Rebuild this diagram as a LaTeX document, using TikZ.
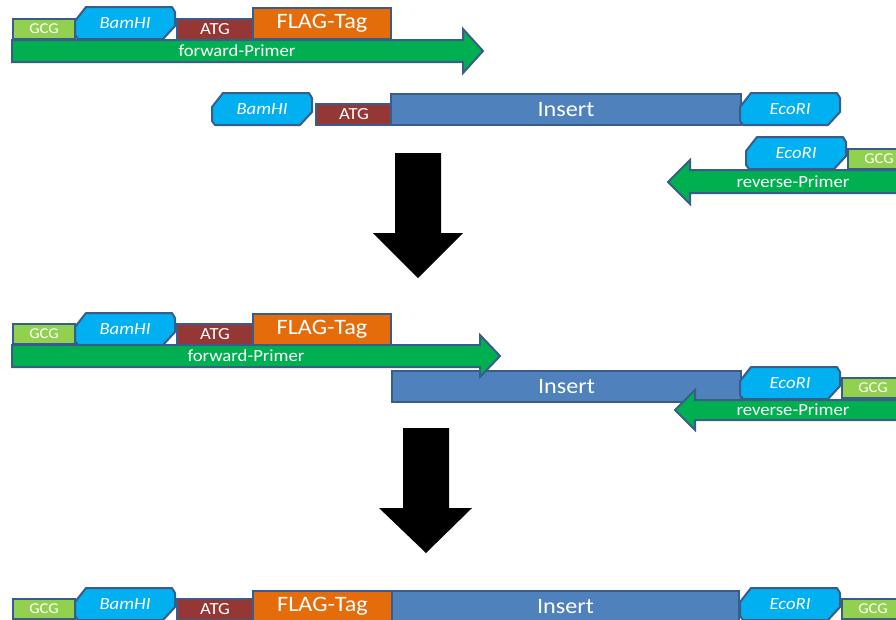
\documentclass[tikz,border=0pt]{standalone}
\usepackage{fontspec}
\setmainfont{Carlito}[FakeStretch=1.1]
\usepackage{tikz}
\definecolor{PCREdge}{HTML}{385D8A}
\definecolor{PCRLime}{HTML}{92D050}
\definecolor{PCRCyan}{HTML}{00B0F0}
\definecolor{PCRRust}{HTML}{953735}
\definecolor{PCROrange}{HTML}{E46C0A}
\definecolor{PCRSteel}{HTML}{4F81BD}
\definecolor{PCRGreen}{HTML}{00B050}

% restriction site with cut corners, top left at (#2,#3)
\newcommand\cutsite[4]{%
  \draw[site] (#2,#3) ++(11,0) -- ++(86,0) -- ++(3,5) -- ++(0,14) -- ++(-12,13) -- ++(-85,0) -- ++(-3,-4) -- ++(0,-14) -- cycle;
  \node[sitelabel] (#1) at (#2+50,#3+16) {#4};}

\begin{document}
\begin{tikzpicture}[x=1pt,y=-1pt,
  box/.style={draw=PCREdge,line width=2pt,inner sep=0pt,anchor=north west,text=white,font=\fontsize{17}{17}\selectfont},
  site/.style={draw=PCREdge,line width=2pt,fill=PCRCyan,line join=round},
  sitelabel/.style={text=white,font=\fontsize{17}{17}\selectfont\itshape},
  primer/.style={draw=PCREdge,line width=2pt,fill=PCRGreen},
  primerlabel/.style={text=white,font=\fontsize{17}{17}\selectfont},
  gcg/.style={box,fill=PCRLime,minimum width=62pt,minimum height=20pt,font=\fontsize{15}{15}\selectfont},
  atg/.style={box,fill=PCRRust,minimum width=76pt,minimum height=21pt},
  flag/.style={box,fill=PCROrange,minimum width=138pt,minimum height=31pt,font=\fontsize{22}{22}\selectfont},
  insert/.style={box,fill=PCRSteel,minimum width=350pt,minimum height=31pt,font=\fontsize{22}{22}\selectfont},
  down/.style={fill=black}
]
\useasboundingbox (0,0) rectangle (896,619);
% forward primer
\node[gcg] (gcg1) at (12,18) {GCG};
\cutsite{bam1}{75}{7}{BamHI}
\node[atg] (atg1) at (176,18) {ATG};
\node[flag] (flag1) at (252,7) {FLAG-Tag};
\draw[primer] (12,40) -- (463,40) -- (463,29) -- (483,51) -- (463,73) -- (463,62) -- (12,62) -- cycle;
\node[primerlabel] (fwd1) at (237,51) {forward-Primer};
% template
\cutsite{bam2}{212}{93}{BamHI}
\node[atg] (atg2) at (315,103) {ATG};
\node[insert] (ins2) at (390,93) {Insert};
\cutsite{eco2}{740}{93}{EcoRI}
% reverse primer
\cutsite{eco3}{746}{137}{EcoRI}
\node[gcg] (gcg3) at (847,148) {GCG};
\draw[primer] (900,170) -- (690,170) -- (690,160) -- (668,182) -- (690,204) -- (690,193) -- (900,193) -- cycle;
\node[primerlabel] (rev1) at (793,182) {reverse-Primer};

\fill[down] (395,153) -- (441,153) -- (441,233) -- (463,233) -- (418,278) -- (373,233) -- (395,233) -- cycle;

% annealing
\node[gcg] (gcg4) at (12,323) {GCG};
\cutsite{bam4}{75}{313}{BamHI}
\node[atg] (atg4) at (176,323) {ATG};
\node[flag] (flag4) at (252,313) {FLAG-Tag};
\node[insert,minimum width=349pt] (ins4) at (391,370) {Insert};
\draw[primer] (12,345) -- (480,345) -- (480,335) -- (500,356) -- (480,377) -- (480,367) -- (12,367) -- cycle;
\node[primerlabel] (fwd4) at (246,356) {forward-Primer};
\cutsite{eco4}{740}{367}{EcoRI}
\node[gcg] (gcg4b) at (841,377) {GCG};
\draw[primer] (900,400) -- (695,400) -- (695,390) -- (675,410) -- (695,430) -- (695,420) -- (900,420) -- cycle;
\node[primerlabel] (rev4) at (793,410) {reverse-Primer};

\fill[down] (403,428) -- (449,428) -- (449,508) -- (472,508) -- (426,553) -- (379,508) -- (403,508) -- cycle;

% product
\node[gcg] (gcg5) at (12,598) {GCG};
\cutsite{bam5}{75}{588}{BamHI}
\node[atg] (atg5) at (176,598) {ATG};
\node[insert,minimum width=347pt] (ins5) at (391,590) {Insert};
\node[flag,minimum width=139pt] (flag5) at (252,590) {FLAG-Tag};
\cutsite{eco5}{740}{588}{EcoRI}
\node[gcg] (gcg5b) at (841,598) {GCG};
\end{tikzpicture}
\end{document}
